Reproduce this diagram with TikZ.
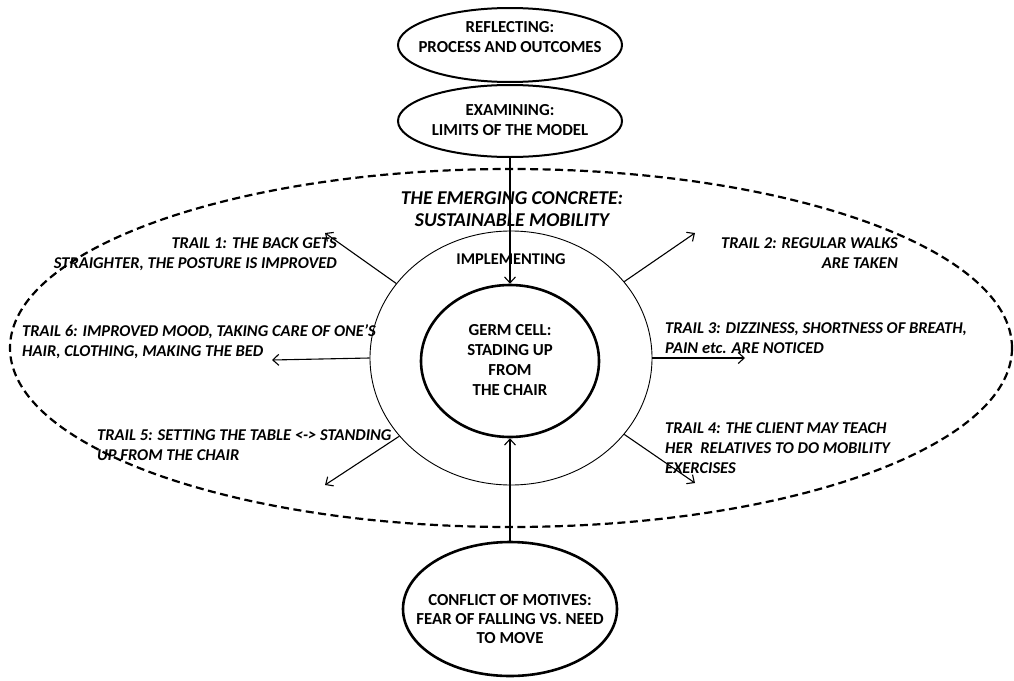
\documentclass[tikz,border=0pt]{standalone}
\usepackage{fontspec}
\setmainfont{Carlito}
\usetikzlibrary{shapes.geometric,arrows.meta}
\tikzset{
stage/.style={ellipse,draw=black,line width=2pt,inner sep=0pt},
stagetext/.style={anchor=north,align=center,inner sep=0pt,font=\bfseries\fontsize{16.8}{20}\selectfont},
trail/.style={inner sep=0pt,font=\bfseries\itshape\fontsize{16.5}{20}\selectfont},
link/.style={line width=1.1pt,-{Straight Barb[length=6pt,width=11pt]}},
}
\begin{document}
\begin{tikzpicture}[x=1pt,y=-1pt]
\useasboundingbox (0,0) rectangle (1014,680);
\node[ellipse,draw=black,line width=2.2pt,dash pattern=on 8pt off 4.5pt,minimum width=1002,minimum height=358,inner sep=0pt] (field) at (511,348) {};
\node[ellipse,draw=black,line width=0.9pt,minimum width=282,minimum height=254,inner sep=0pt] (impl) at (511,358) {};
\node[stage,minimum width=224,minimum height=74] (reflect) at (510,45) {};
\node[stage,minimum width=224,minimum height=72] (exam) at (510,121) {};
\node[stage,line width=2.6pt,minimum width=178,minimum height=152] (germ) at (510,361) {};
\node[stage,line width=2.6pt,minimum width=214,minimum height=134] (motive) at (510,609) {};

\node[stagetext] (reflecttext) at (510,21) {REFLECTING:\\PROCESS AND OUTCOMES};
\node[stagetext] (examtext) at (510,104) {EXAMINING:\\LIMITS OF THE MODEL};
\node[stagetext] (germtext) at (510,324) {GERM CELL:\\STADING UP\\FROM\\THE CHAIR};
\node[stagetext,font=\bfseries\fontsize{16.8}{19}\selectfont] (motivetext) at (510,594) {CONFLICT OF MOTIVES:\\FEAR OF FALLING VS. NEED\\TO MOVE};
\node[stagetext,font=\bfseries\fontsize{16.4}{20}\selectfont] (impltext) at (511,254) {IMPLEMENTING};
\node[stagetext,font=\bfseries\itshape\fontsize{19.6}{22}\selectfont] (title) at (512,191) {THE EMERGING CONCRETE:\\SUSTAINABLE MOBILITY};

\node[trail,anchor=north east,align=right] (trail1) at (337,237) {TRAIL 1: THE BACK GETS\\STRAIGHTER, THE POSTURE IS IMPROVED};
\node[trail,anchor=north east,align=right] (trail2) at (898,237) {TRAIL 2: REGULAR WALKS\\ARE TAKEN};
\node[trail,anchor=north west,align=left] (trail3) at (665,322) {TRAIL 3: DIZZINESS, SHORTNESS OF BREATH,\\PAIN etc. ARE NOTICED};
\node[trail,anchor=north west,align=left] (trail4) at (665,422) {TRAIL 4: THE CLIENT MAY TEACH\\HER\ \ RELATIVES TO DO MOBILITY\\EXERCISES};
\node[trail,anchor=north west,align=left] (trail5) at (97,429) {TRAIL 5: SETTING THE TABLE <-> STANDING\\UP FROM THE CHAIR};
\node[trail,anchor=north west,align=left] (trail6) at (22,324) {TRAIL 6: IMPROVED MOOD, TAKING CARE OF ONE’S\\HAIR, CLOTHING, MAKING THE BED};

\coordinate (t1end) at (325,233);
\coordinate (t2end) at (695,233);
\coordinate (t3end) at (745,358);
\coordinate (t4end) at (695,483);
\coordinate (t5end) at (325,485);
\coordinate (t6end) at (272,360);

\draw[link] (exam.south) -- (germ.north);
\draw[link] (motive.north) -- (germ.south);
\draw[link] (impl.147) -- (t1end);
\draw[link] (impl.34) -- (t2end);
\draw[link] (impl.0) -- (t3end);
\draw[link] (impl.-34) -- (t4end);
\draw[link] (impl.-145) -- (t5end);
\draw[link] (impl.180) -- (t6end);
\end{tikzpicture}
\end{document}
